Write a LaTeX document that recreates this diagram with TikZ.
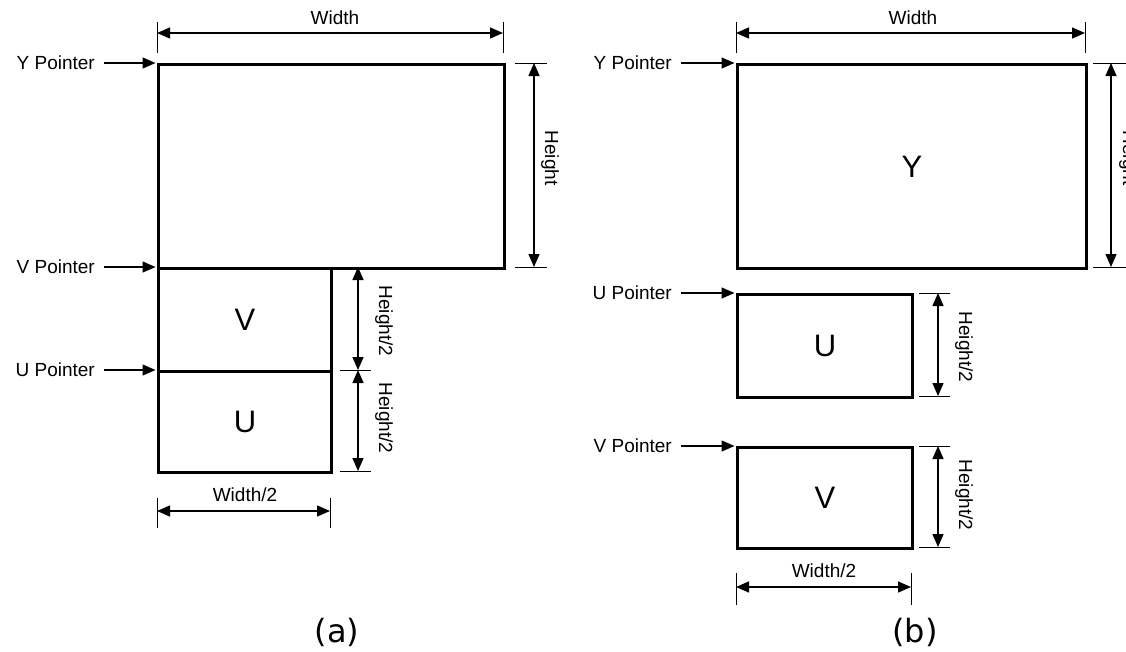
\documentclass[tikz,border=0pt]{standalone}
\usepackage{fontspec}
\setmainfont{Liberation Sans}
\newfontfamily\capfont{DejaVu Sans}
\usetikzlibrary{arrows.meta}
\begin{document}
\begin{tikzpicture}[x=1pt,y=-1pt,
  plane/.style={draw, line width=3pt, inner sep=0pt, anchor=north west, font=\fontsize{31}{34}\selectfont},
  dim/.style={line width=1.4pt, {Triangle[length=13pt,width=11pt]}-{Triangle[length=13pt,width=11pt]}},
  tick/.style={line width=1pt},
  ptr/.style={line width=1.4pt, -{Triangle[length=13pt,width=11pt]}, shorten >=1.5pt},
  lbl/.style={font=\fontsize{19}{21}\selectfont, inner sep=0pt},
  vlbl/.style={lbl, rotate=-90},
  panelcap/.style={font=\capfont\fontsize{32}{36}\selectfont, inner sep=0pt}]
\useasboundingbox (0,0) rectangle (1126,651);
\fill[white] (0,0) rectangle (1126,651);
\clip (0,0) rectangle (1126,651);

% ---------------- panel (a) ----------------
\node[plane, minimum width=346pt, minimum height=204pt] (Ya) at (157,63) {};
\node[plane, minimum width=173pt, minimum height=103pt] (Va) at (157,267) {V};
\node[plane, minimum width=173pt, minimum height=101pt] (Ua) at (157,370) {U};

\node[lbl, anchor=east] (ypa) at (95,63) {Y Pointer};
\node[lbl, anchor=east] (vpa) at (95,267) {V Pointer};
\node[lbl, anchor=east] (upa) at (95,370) {U Pointer};
\draw[ptr] ([xshift=9pt]ypa.east) -- (Ya.north west);
\draw[ptr] ([xshift=9pt]vpa.east) -- (Va.north west);
\draw[ptr] ([xshift=9pt]upa.east) -- (Ua.north west);

% width
\coordinate (wa1) at (157,33); \coordinate (wa2) at (503,33);
\draw[tick] (157,22) -- (157,53);
\draw[tick] (503,22) -- (503,53);
\draw[dim] (wa1) -- (wa2);
\node[lbl] (wal) at (335,18) {Width};

% height
\coordinate (ha1) at (534,63); \coordinate (ha2) at (534,267);
\draw[tick] (515,63) -- (547,63);
\draw[tick] (515,267) -- (547,267);
\draw[dim] (ha1) -- (ha2);
\node[vlbl] (hal) at (550,158) {Height};

% height/2
\coordinate (h2a1) at (358,267); \coordinate (h2a2) at (358,370); \coordinate (h2a3) at (358,471);
\draw[tick] (340,370) -- (371,370);
\draw[tick] (340,471) -- (371,471);
\draw[dim] (h2a1) -- (h2a2);
\draw[dim] (h2a2) -- (h2a3);
\node[vlbl] (h2al1) at (384,321) {Height/2};
\node[vlbl] (h2al2) at (384,418) {Height/2};

% width/2
\coordinate (w2a1) at (157,511); \coordinate (w2a2) at (330,511);
\draw[tick] (157,498) -- (157,528);
\draw[tick] (330,498) -- (330,528);
\draw[dim] (w2a1) -- (w2a2);
\node[lbl] (w2al) at (245,495) {Width/2};

\node[panelcap] (capa) at (337,632) {(a)};

% ---------------- panel (b) ----------------
\node[plane, minimum width=349pt, minimum height=204pt] (Yb) at (736,63) {Y};
\node[plane, minimum width=175pt, minimum height=103pt] (Ub) at (736,293) {U};
\node[plane, minimum width=175pt, minimum height=101pt] (Vb) at (736,446) {V};

\node[lbl, anchor=east] (ypb) at (672,63) {Y Pointer};
\node[lbl, anchor=east] (upb) at (672,293) {U Pointer};
\node[lbl, anchor=east] (vpb) at (672,446) {V Pointer};
\draw[ptr] ([xshift=9pt]ypb.east) -- (Yb.north west);
\draw[ptr] ([xshift=9pt]upb.east) -- (Ub.north west);
\draw[ptr] ([xshift=9pt]vpb.east) -- (Vb.north west);

% width
\coordinate (wb1) at (736,33); \coordinate (wb2) at (1085,33);
\draw[tick] (736,22) -- (736,53);
\draw[tick] (1085,22) -- (1085,53);
\draw[dim] (wb1) -- (wb2);
\node[lbl] (wbl) at (913,18) {Width};

% height (label partly beyond the right edge, as in the reference)
\coordinate (hb1) at (1111,63); \coordinate (hb2) at (1111,267);
\draw[tick] (1093,63) -- (1126,63);
\draw[tick] (1093,267) -- (1126,267);
\draw[dim] (hb1) -- (hb2);
\node[vlbl] (hbl) at (1128,158) {Height};

% height/2
\coordinate (h2b1) at (938,293); \coordinate (h2b2) at (938,396);
\coordinate (h2b3) at (938,446); \coordinate (h2b4) at (938,547);
\draw[tick] (919,293) -- (950,293);
\draw[tick] (919,396) -- (950,396);
\draw[tick] (919,446) -- (950,446);
\draw[tick] (919,547) -- (950,547);
\draw[dim] (h2b1) -- (h2b2);
\draw[dim] (h2b3) -- (h2b4);
\node[vlbl] (h2bl1) at (964,347) {Height/2};
\node[vlbl] (h2bl2) at (964,495) {Height/2};

% width/2
\coordinate (w2b1) at (736,587); \coordinate (w2b2) at (911,587);
\draw[tick] (736,573) -- (736,605);
\draw[tick] (911,573) -- (911,605);
\draw[dim] (w2b1) -- (w2b2);
\node[lbl] (w2bl) at (824,571) {Width/2};

\node[panelcap] (capb) at (915,632) {(b)};
\end{tikzpicture}
\end{document}
